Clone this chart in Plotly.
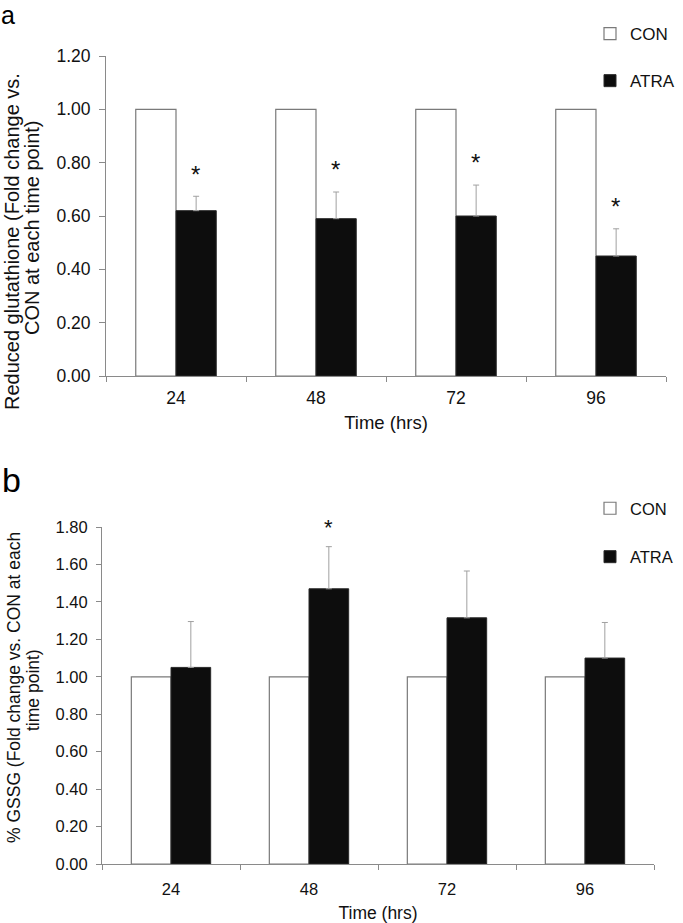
import plotly.graph_objects as go

# ---- data ----
times = ["24", "48", "72", "96"]
gsh_con = [1.00, 1.00, 1.00, 1.00]
gsh_atra = [0.62, 0.59, 0.60, 0.45]
gsh_atra_err = [0.054, 0.100, 0.116, 0.102]
gsh_sig = [True, True, True, True]

gssg_con = [1.00, 1.00, 1.00, 1.00]
gssg_atra = [1.05, 1.47, 1.315, 1.10]
gssg_atra_err = [0.245, 0.225, 0.25, 0.19]
gssg_sig = [False, True, False, False]

W, H = 683, 923
FONT = "Arial, Liberation Sans, sans-serif"
TXT = "#111111"
AX = "#8a8a8a"


def px_x(p):
    return p / W


def px_y(p):
    return 1 - p / H


fig = go.Figure()

con_marker = dict(color="white", line=dict(color="#7a7a7a", width=1.2))
atra_marker = dict(color="#0d0d0d", line=dict(color="#2a2a2a", width=1))

fig.add_trace(go.Bar(x=times, y=gsh_con, name="CON", marker=con_marker,
                     xaxis="x", yaxis="y", legend="legend", legendgroup="a1"))
fig.add_trace(go.Bar(x=times, y=gsh_atra, name="ATRA", marker=atra_marker,
                     error_y=dict(type="data", array=gsh_atra_err, arrayminus=[0] * 4,
                                  symmetric=False, color="#a0a0a0", thickness=1, width=3),
                     xaxis="x", yaxis="y", legend="legend", legendgroup="a2"))
fig.add_trace(go.Bar(x=times, y=gssg_con, name="CON", marker=con_marker,
                     xaxis="x2", yaxis="y2", legend="legend2", legendgroup="b1"))
fig.add_trace(go.Bar(x=times, y=gssg_atra, name="ATRA", marker=atra_marker,
                     error_y=dict(type="data", array=gssg_atra_err, arrayminus=[0] * 4,
                                  symmetric=False, color="#a0a0a0", thickness=1, width=3),
                     xaxis="x2", yaxis="y2", legend="legend2", legendgroup="b2"))

common_x = dict(type="category", showline=True, linecolor=AX, linewidth=1,
                ticks="outside", tickson="boundaries", ticklen=5, tickcolor=AX,
                showgrid=False, zeroline=False, tickangle=0,
                range=[-0.5, len(times) - 0.5])
common_y = dict(showline=True, linecolor=AX, linewidth=1, ticks="outside",
                ticklen=6, tickcolor=AX, showgrid=False, zeroline=False,
                dtick=0.2, tickformat=".2f")

annotations = []
# significance stars (x given as category index)
for i, (v, e, s) in enumerate(zip(gsh_atra, gsh_atra_err, gsh_sig)):
    if s:
        annotations.append(dict(x=i, y=v + e + 0.025, xref="x", yref="y", text="*",
                                showarrow=False, xshift=19, yanchor="bottom",
                                font=dict(size=24, family=FONT, color=TXT)))
for i, (v, e, s) in enumerate(zip(gssg_atra, gssg_atra_err, gssg_sig)):
    if s:
        annotations.append(dict(x=i, y=v + e + 0.023, xref="x2", yref="y2", text="*",
                                showarrow=False, xshift=19, yanchor="bottom",
                                font=dict(size=22, family=FONT, color=TXT)))

# y-axis titles (two lines each)
annotations += [
    dict(x=px_x(12), y=px_y(242), xref="paper", yref="paper", textangle=-90,
         text="Reduced glutathione (Fold change vs.", showarrow=False,
         xanchor="center", yanchor="middle", font=dict(size=20, family=FONT, color=TXT)),
    dict(x=px_x(32), y=px_y(228), xref="paper", yref="paper", textangle=-90,
         text="CON at each time point)", showarrow=False,
         xanchor="center", yanchor="middle", font=dict(size=20, family=FONT, color=TXT)),
    dict(x=px_x(14), y=px_y(688), xref="paper", yref="paper", textangle=-90,
         text="% GSSG (Fold change vs. CON at each", showarrow=False,
         xanchor="center", yanchor="middle", font=dict(size=17.5, family=FONT, color=TXT)),
    dict(x=px_x(33), y=px_y(690), xref="paper", yref="paper", textangle=-90,
         text="time point)", showarrow=False,
         xanchor="center", yanchor="middle", font=dict(size=17.5, family=FONT, color=TXT)),
    # panel letters
    dict(x=0, y=1, xref="paper", yref="paper", text="a", showarrow=False, borderpad=0,
         xanchor="left", yanchor="top", font=dict(size=25, family=FONT, color="#000")),
    dict(x=0, y=px_y(459), xref="paper", yref="paper", text="b", showarrow=False,
         xanchor="left", yanchor="top", font=dict(size=34, family=FONT, color="#000")),
]

fig.update_layout(
    width=W, height=H, autosize=False,
    margin=dict(l=0, r=0, t=0, b=0, autoexpand=False),
    paper_bgcolor="white", plot_bgcolor="white",
    font=dict(family=FONT, color=TXT),
    barmode="group", bargap=0.425, bargroupgap=0,
    xaxis=dict(common_x, domain=[px_x(106), px_x(666)], anchor="y",
               tickfont=dict(size=17.5), ticklabelstandoff=6,
               title=dict(text="Time (hrs)", font=dict(size=18.5), standoff=9)),
    yaxis=dict(common_y, domain=[px_y(376), px_y(56)], range=[0, 1.2], anchor="x",
               tickfont=dict(size=17.5), ticklabelstandoff=5),
    xaxis2=dict(common_x, domain=[px_x(102), px_x(654)], anchor="y2",
                tickfont=dict(size=16.5), ticklabelstandoff=10,
                title=dict(text="Time (hrs)", font=dict(size=17.5), standoff=12)),
    yaxis2=dict(common_y, domain=[px_y(864), px_y(527)], range=[0, 1.8], anchor="x2",
                tickfont=dict(size=16.5), ticklabelstandoff=5, ticklen=5),
    legend=dict(x=px_x(590), y=px_y(16), xanchor="left", yanchor="top",
                font=dict(size=17, family=FONT, color=TXT), traceorder="grouped",
                tracegroupgap=22, bgcolor="rgba(0,0,0,0)"),
    legend2=dict(x=px_x(590), y=px_y(491), xanchor="left", yanchor="top",
                 font=dict(size=16.5, family=FONT, color=TXT), traceorder="grouped",
                 tracegroupgap=24, bgcolor="rgba(0,0,0,0)"),
    annotations=annotations,
    showlegend=True,
)

fig.write_html("out.html", config={"displayModeBar": False},
               post_script="document.body.style.margin='0';document.body.style.padding='0';")
